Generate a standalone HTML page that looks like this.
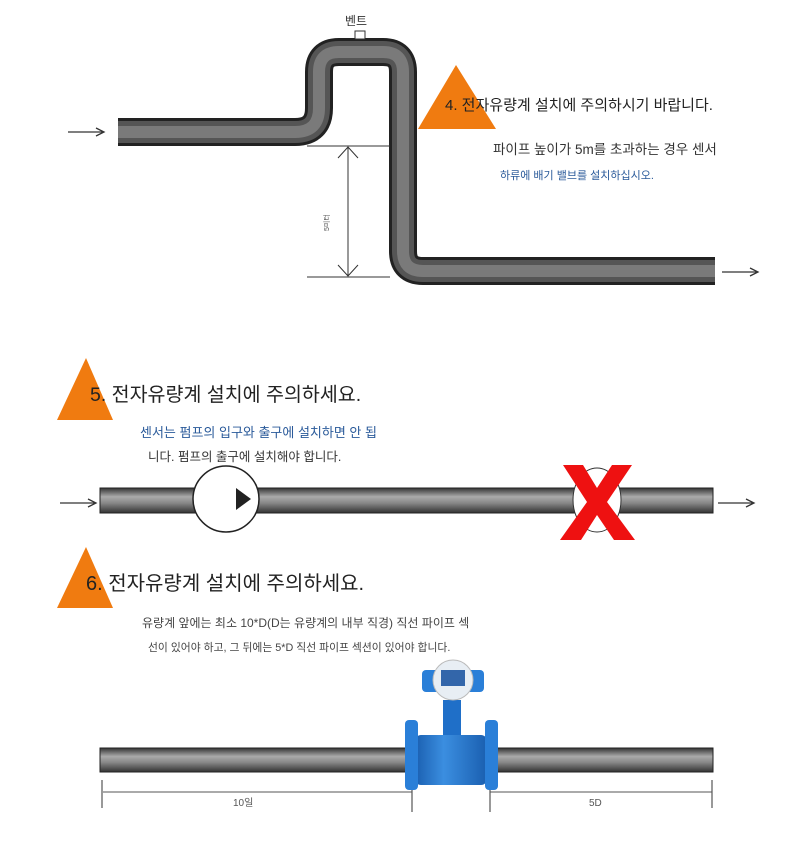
<!DOCTYPE html>
<html><head><meta charset="utf-8"><style>
html,body{margin:0;padding:0;background:#fff;}
svg{display:block;font-family:"Liberation Sans","Noto Sans CJK KR",sans-serif;}
</style></head><body>
<svg width="800" height="846" viewBox="0 0 800 846" xmlns="http://www.w3.org/2000/svg">
<defs>
<linearGradient id="hp" x1="0" y1="0" x2="0" y2="1">
<stop offset="0" stop-color="#333"/><stop offset="0.35" stop-color="#aaa"/><stop offset="0.6" stop-color="#888"/><stop offset="1" stop-color="#333"/>
</linearGradient>
<linearGradient id="bl" x1="0" y1="0" x2="1" y2="0">
<stop offset="0" stop-color="#1a5fb0"/><stop offset="0.4" stop-color="#3b8ee0"/><stop offset="1" stop-color="#1a5fb0"/>
</linearGradient>
</defs>
<!-- Section 1 -->
<line x1="68" y1="132" x2="103" y2="132" stroke="#333" stroke-width="1.3"/>
<path d="M96 128 L104 132 L96 136" fill="none" stroke="#333" stroke-width="1.3"/>
<path d="M118 132 H295 Q319 132 319 108 V72 Q319 52 339 52 H383 Q403 52 403 72 V251 Q403 271 423 271 H715" fill="none" stroke="#222" stroke-width="28" stroke-linejoin="round"/>
<path d="M118 132 H295 Q319 132 319 108 V72 Q319 52 339 52 H383 Q403 52 403 72 V251 Q403 271 423 271 H715" fill="none" stroke="#555" stroke-width="22"/>
<path d="M118 132 H295 Q319 132 319 108 V72 Q319 52 339 52 H383 Q403 52 403 72 V251 Q403 271 423 271 H715" fill="none" stroke="#7a7a7a" stroke-width="12"/>
<rect x="355" y="31" width="10" height="8" fill="#fff" stroke="#333"/>
<text x="345" y="25" font-size="12" fill="#333">벤트</text>
<line x1="307" y1="146" x2="390" y2="146" stroke="#333"/>
<line x1="307" y1="277" x2="390" y2="277" stroke="#333"/>
<line x1="348" y1="147" x2="348" y2="276" stroke="#333"/>
<path d="M338 158 L348 147 L358 158 M338 265 L348 276 L358 265" fill="none" stroke="#333"/>
<text x="0" y="0" font-size="7" fill="#555" transform="translate(329,231) rotate(-90)">5미터</text>
<polygon points="456,65 418,129 496,129" fill="#f07b10"/>
<text x="445" y="110" font-size="15" fill="#222">4. 전자유량계 설치에 주의하시기 바랍니다.</text>
<text x="493" y="154" font-size="13.5" fill="#333">파이프 높이가 5m를 초과하는 경우 센서</text>
<text x="500" y="179" font-size="11" fill="#2a5a9a">하류에 배기 밸브를 설치하십시오.</text>
<line x1="722" y1="272" x2="757" y2="272" stroke="#333" stroke-width="1.3"/>
<path d="M750 268 L758 272 L750 276" fill="none" stroke="#333" stroke-width="1.3"/>
<!-- Section 2 -->
<polygon points="86,358 57,420 113,420" fill="#f07b10"/>
<text x="90" y="401" font-size="19.5" fill="#222">5. 전자유량계 설치에 주의하세요.</text>
<text x="140" y="437" font-size="13" fill="#2a5a9a">센서는 펌프의 입구와 출구에 설치하면 안 됩</text>
<text x="148" y="461" font-size="12.5" fill="#333">니다. 펌프의 출구에 설치해야 합니다.</text>
<line x1="60" y1="503" x2="95" y2="503" stroke="#333" stroke-width="1.3"/>
<path d="M88 499 L96 503 L88 507" fill="none" stroke="#333" stroke-width="1.3"/>
<rect x="100" y="488" width="613" height="25" fill="url(#hp)" stroke="#222"/>
<circle cx="226" cy="499" r="33" fill="#fff" stroke="#222" stroke-width="1.5"/>
<polygon points="236,488 236,510 251,499" fill="#222"/>
<ellipse cx="597" cy="500" rx="24" ry="32" fill="#fff" stroke="#333"/>
<path d="M563 465 H583 L597 488 L612 465 H632 L607 502 L635 540 H614 L597 515 L581 540 H560 L587 502 Z" fill="#ee1111"/>
<line x1="718" y1="503" x2="753" y2="503" stroke="#333" stroke-width="1.3"/>
<path d="M746 499 L754 503 L746 507" fill="none" stroke="#333" stroke-width="1.3"/>
<!-- Section 3 -->
<polygon points="86,547 57,608 113,608" fill="#f07b10"/>
<text x="86" y="590" font-size="20" fill="#222">6. 전자유량계 설치에 주의하세요.</text>
<text x="142" y="627" font-size="12" fill="#444">유량계 앞에는 최소 10*D(D는 유량계의 내부 직경) 직선 파이프 섹</text>
<text x="148" y="651" font-size="10.8" fill="#444">선이 있어야 하고, 그 뒤에는 5*D 직선 파이프 섹션이 있어야 합니다.</text>
<rect x="100" y="748" width="613" height="24" fill="url(#hp)" stroke="#222"/>
<rect x="443" y="700" width="18" height="40" fill="#1f6fc8"/>
<rect x="415" y="735" width="72" height="50" rx="6" fill="url(#bl)"/>
<rect x="405" y="720" width="13" height="70" rx="4" fill="#2a7fd8"/>
<rect x="485" y="720" width="13" height="70" rx="4" fill="#2a7fd8"/>
<rect x="422" y="670" width="62" height="22" rx="4" fill="#2a7fd8"/>
<circle cx="453" cy="680" r="20" fill="#e8eef4" stroke="#bbb"/>
<rect x="441" y="670" width="24" height="16" fill="#3366aa"/>
<line x1="102" y1="780" x2="102" y2="808" stroke="#333"/>
<line x1="412" y1="790" x2="412" y2="812" stroke="#333"/>
<line x1="490" y1="790" x2="490" y2="812" stroke="#333"/>
<line x1="712" y1="780" x2="712" y2="808" stroke="#333"/>
<line x1="103" y1="792" x2="412" y2="792" stroke="#555"/>
<line x1="490" y1="792" x2="712" y2="792" stroke="#555"/>
<text x="233" y="806" font-size="10" fill="#555">10일</text>
<text x="589" y="806" font-size="10" fill="#555">5D</text>
</svg>
</body></html>
